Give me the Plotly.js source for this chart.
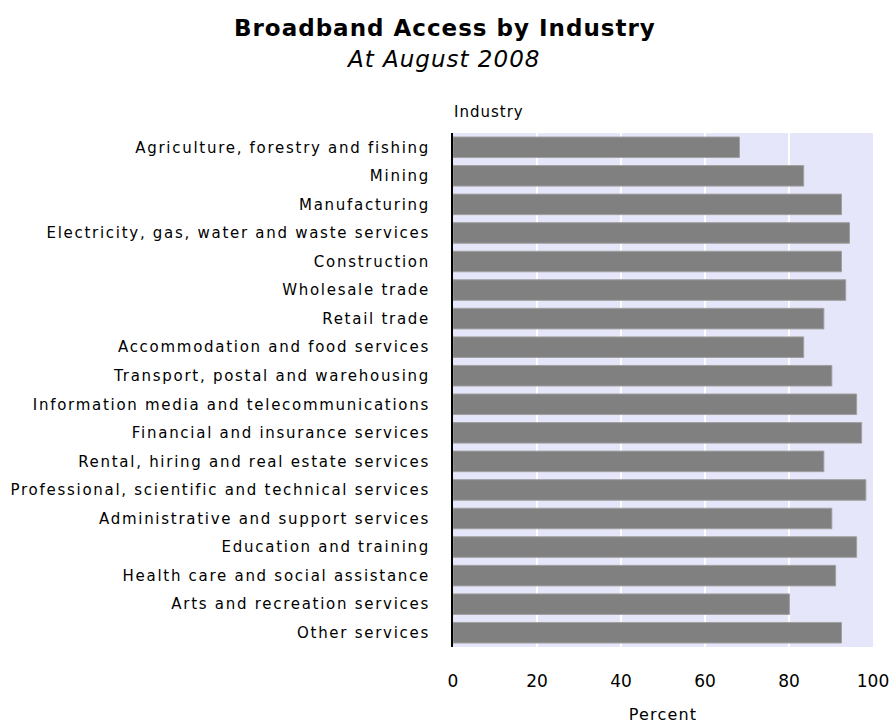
<!DOCTYPE html>
<html>
<head>
<meta charset="utf-8">
<script src="https://cdn.plot.ly/plotly-3.0.1.min.js"></script>
<style>
html,body{margin:0;padding:0;background:#fff;}
#chart{width:893px;height:724px;}
#chart .ytick text{letter-spacing:1.72px;}
#chart .xtick text{letter-spacing:0px;}
#chart .xtitle{letter-spacing:1.2px;}
#chart .annotation-text{letter-spacing:1px;}
</style>
</head>
<body>
<div id="chart"></div>
<script>
const industries = [
  "Agriculture, forestry and fishing",
  "Mining",
  "Manufacturing",
  "Electricity, gas, water and waste services",
  "Construction",
  "Wholesale trade",
  "Retail trade",
  "Accommodation and food services",
  "Transport, postal and warehousing",
  "Information media and telecommunications",
  "Financial and insurance services",
  "Rental, hiring and real estate services",
  "Professional, scientific and technical services",
  "Administrative and support services",
  "Education and training",
  "Health care and social assistance",
  "Arts and recreation services",
  "Other services"
];
const percent = [68.2, 83.5, 92.5, 94.4, 92.5, 93.5, 88.3, 83.5, 90.2, 96.1, 97.3, 88.3, 98.3, 90.2, 96.1, 91.1, 80.1, 92.5];
const xTicks = [0, 20, 40, 60, 80, 100];

const font = "DejaVu Sans, Verdana, sans-serif";

const trace = {
  type: "bar",
  orientation: "h",
  y: industries,
  x: percent,
  marker: {color: "#808080", line: {color: "#a0a0a0", width: 1}},
  hoverinfo: "x+y"
};

const plotL = 453, plotR = 873, plotT = 133, plotB = 647;
const plotW = plotR - plotL, plotH = plotB - plotT;
function xPaper(px){ return (px - plotL) / plotW; }
function yPaper(py){ return (plotB - py) / plotH; }

const layout = {
  width: 893, height: 724,
  margin: {l: plotL, r: 893 - plotR, t: plotT, b: 724 - plotB},
  paper_bgcolor: "#ffffff",
  plot_bgcolor: "#e6e6fa",
  bargap: 0.28,
  showlegend: false,
  font: {family: font, color: "#000", size: 15},
  xaxis: {
    range: [0, 100],
    tickvals: xTicks,
    ticktext: xTicks.map(String),
    showgrid: true, gridcolor: "#ffffff", gridwidth: 1.5,
    zeroline: false, showline: false,
    ticks: "", ticklabelstandoff: 22,
    tickfont: {size: 17, family: font},
    title: {text: "Percent", font: {size: 16, family: font}, standoff: 21}
  },
  yaxis: {
    autorange: "reversed",
    showline: true, linecolor: "#000", linewidth: 2,
    showgrid: false, zeroline: false,
    ticks: "", ticklabelstandoff: 18,
    tickfont: {size: 15, family: font}
  },
  annotations: [
    {text: "<b>Broadband Access by Industry</b>", xref: "paper", yref: "paper",
     x: xPaper(444.5), y: yPaper(28), xanchor: "center", yanchor: "middle",
     showarrow: false, font: {size: 23, family: font}},
    {text: "<i>At August 2008</i>", xref: "paper", yref: "paper",
     x: xPaper(443), y: yPaper(59), xanchor: "center", yanchor: "middle",
     showarrow: false, font: {size: 23, family: font}},
    {text: "Industry", xref: "paper", yref: "paper",
     x: xPaper(456), y: yPaper(112), xanchor: "left", yanchor: "middle",
     showarrow: false, font: {size: 15, family: font}}
  ]
};

Plotly.newPlot("chart", [trace], layout, {displayModeBar: false, staticPlot: true});
</script>
</body>
</html>
